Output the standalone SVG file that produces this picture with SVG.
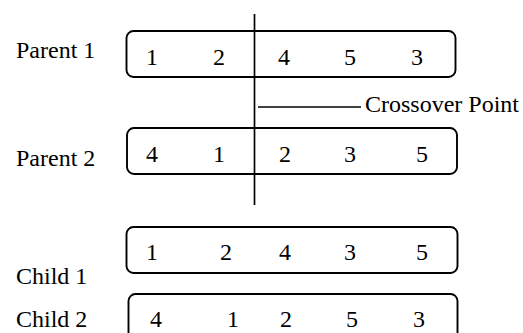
<svg xmlns="http://www.w3.org/2000/svg" width="523" height="333" viewBox="0 0 523 333">
<style>
text{font-family:"Liberation Serif","Times New Roman",serif;font-size:24px;fill:#000}
.d{text-anchor:middle}
.box{fill:none;stroke:#000;stroke-width:1.9}
.ln{stroke:#000;stroke-width:1.7;fill:none}
</style>
<rect width="523" height="333" fill="#fff"/>
<g id="parent1">
<text x="16" y="58">Parent 1</text>
<rect class="box" x="126.5" y="31" width="329" height="46" rx="7"/>
<text class="d" x="152" y="65">1</text><text class="d" x="219" y="65">2</text><text class="d" x="284" y="65">4</text><text class="d" x="350" y="65">5</text><text class="d" x="417" y="65">3</text>
</g>
<g id="parent2">
<text x="16" y="166">Parent 2</text>
<rect class="box" x="127" y="128" width="330" height="46" rx="7"/>
<text class="d" x="152" y="162">4</text><text class="d" x="219" y="162">1</text><text class="d" x="285" y="162">2</text><text class="d" x="350" y="162">3</text><text class="d" x="422" y="162">5</text>
</g>
<g id="child1">
<text x="16" y="284">Child 1</text>
<rect class="box" x="126.5" y="227" width="331" height="46" rx="7"/>
<text class="d" x="152" y="260">1</text><text class="d" x="226" y="260">2</text><text class="d" x="285" y="260">4</text><text class="d" x="350" y="260">3</text><text class="d" x="422" y="260">5</text>
</g>
<g id="child2">
<text x="16" y="327">Child 2</text>
<rect class="box" x="128.5" y="294" width="329" height="46" rx="7"/>
<text class="d" x="156" y="327">4</text><text class="d" x="233" y="327">1</text><text class="d" x="286" y="327">2</text><text class="d" x="352" y="327">5</text><text class="d" x="419" y="327">3</text>
</g>
<g id="crossover">
<text x="365" y="112">Crossover Point</text>
</g>
<g id="connectors">
<line class="ln" x1="254.5" y1="14" x2="254.5" y2="205"/>
<line class="ln" x1="258" y1="107" x2="361" y2="107"/>
</g>
</svg>
